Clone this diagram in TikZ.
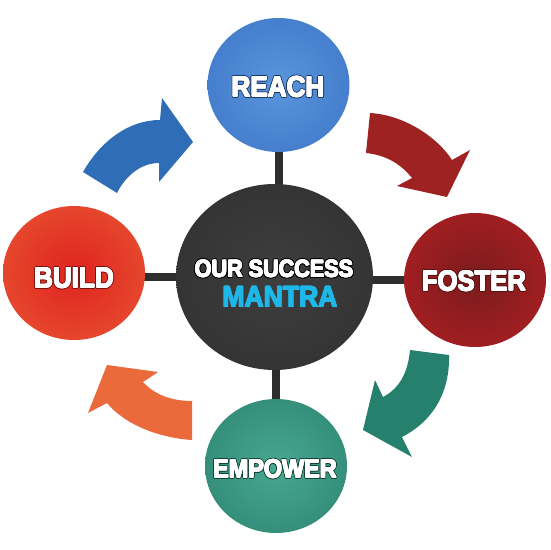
\documentclass[tikz,border=0pt]{standalone}
\usepackage{fontspec}
\usetikzlibrary{shapes.geometric,backgrounds}
\newfontfamily\hv{Liberation Sans}[FakeStretch=0.9]
\definecolor{reachin}{HTML}{5A95DC}
\definecolor{reachout}{HTML}{316ABF}
\definecolor{fosterin}{HTML}{7A1B1C}
\definecolor{fosterout}{HTML}{C42127}
\definecolor{empin}{HTML}{48A891}
\definecolor{empout}{HTML}{237866}
\definecolor{buildin}{HTML}{DF231F}
\definecolor{buildout}{HTML}{EC6739}
\definecolor{midin}{HTML}{3E3E3E}
\definecolor{midout}{HTML}{2B2B2B}
\definecolor{linkc}{HTML}{2E2E2E}
\definecolor{arblue}{HTML}{2F6DB7}
\definecolor{arred}{HTML}{9F2223}
\definecolor{arteal}{HTML}{26806E}
\definecolor{arorange}{HTML}{EB6A3B}
\definecolor{mantra}{HTML}{1DB8E8}
\pgfdeclareradialshading{reachsh}{\pgfpoint{0bp}{0bp}}{color(0bp)=(reachin);color(48bp)=(reachout);color(50bp)=(reachout)}
\pgfdeclareradialshading{fostersh}{\pgfpoint{0bp}{0bp}}{color(0bp)=(fosterin);color(48bp)=(fosterout);color(50bp)=(fosterout)}
\pgfdeclareradialshading{empsh}{\pgfpoint{0bp}{0bp}}{color(0bp)=(empin);color(48bp)=(empout);color(50bp)=(empout)}
\pgfdeclareradialshading{buildsh}{\pgfpoint{0bp}{0bp}}{color(0bp)=(buildin);color(48bp)=(buildout);color(50bp)=(buildout)}
\pgfdeclareradialshading{midsh}{\pgfpoint{0bp}{0bp}}{color(0bp)=(midin);color(48bp)=(midout);color(50bp)=(midout)}
% heavy text: outline colour, fill colour, text
\newcommand\heavytxt[3]{%
  \setbox0=\hbox{#3}%
  \hbox to \wd0{%
    \foreach \dx/\dy in {1.5/0,1.3/0.75,0.75/1.3,0/1.5,-0.75/1.3,-1.3/0.75,-1.5/0,-1.3/-0.75,-0.75/-1.3,0/-1.5,0.75/-1.3,1.3/-0.75}{\rlap{\kern\dx pt\raisebox{\dy pt}{\color{#1}#3}}}%
    \foreach \dx/\dy in {0.6/0,0.42/0.42,0/0.6,-0.42/0.42,-0.6/0,-0.42/-0.42,0/-0.6,0.42/-0.42}{\rlap{\kern\dx pt\raisebox{\dy pt}{\color{#2}#3}}}%
    \rlap{\color{#2}#3}\hss}}
\tikzset{
  ball/.style={ellipse,inner sep=0pt,minimum width=142pt,minimum height=134pt},
  link/.style={line width=8pt,draw=linkc},
  lbl/.style={inner sep=0pt,font=\hv\bfseries\fontsize{#1}{#1}\selectfont}
}
\begin{document}
\begin{tikzpicture}[x=1pt,y=-1pt]
\useasboundingbox (0,0) rectangle (550,550);
% arrows
\fill[arblue] (83,172) .. controls (100,142) and (128,120) .. (160,120)
  -- (162,98) -- (193,142) -- (159,182) -- (159,163)
  .. controls (140,163) and (125,177) .. (117,193) -- cycle;
\fill[arred] (370,113) .. controls (405,115) and (438,138) .. (452,160)
  -- (470,150) -- (447,197) -- (397,186) -- (412,178)
  .. controls (400,163) and (385,155) .. (366,153) -- cycle;
\fill[arteal] (449,355) .. controls (450,390) and (435,420) .. (402,437)
  -- (412,457) -- (363,430) -- (375,380) -- (383,397)
  .. controls (400,388) and (408,372) .. (410,350) -- cycle;
\fill[arorange] (192,440) .. controls (160,438) and (125,425) .. (107,403)
  -- (88,413) -- (107,365) -- (158,372) -- (143,382)
  .. controls (155,395) and (172,401) .. (192,401) -- cycle;
% nodes
\node[ellipse,inner sep=0pt,minimum width=197pt,minimum height=186pt,shading=midsh] (mid) at (274.5,277) {};
\node[ball,shading=reachsh] (reach) at (278.5,85) {};
\node[ball,shading=fostersh] (foster) at (475,280) {};
\node[ball,shading=empsh] (emp) at (276,466) {};
\node[ball,shading=buildsh] (build) at (74,273) {};
\begin{scope}[on background layer]
\draw[link] (reach.center) -- (reach.center |- mid.center);
\draw[link] (emp.center) -- (emp.center |- mid.center);
\draw[link] (build.east) ++(-5,4) -- ++(60,0) coordinate (bl);
\draw[link] (foster.west) ++(5,0) -- ++(-60,0) coordinate (fl);
\end{scope}
% labels
\node[lbl=29] (treach) at (278,87) {\heavytxt{reachout!55!black}{white}{REACH}};
\node[lbl=28.5] (tfoster) at (474,281) {\heavytxt{fosterin!70!black}{white}{FOSTER}};
\node[lbl=26] (temp) at (275,469) {\heavytxt{empout!55!black}{white}{EMPOWER}};
\node[lbl=29] (tbuild) at (74,278) {\heavytxt{buildin!55!black}{white}{BUILD}};
\node[lbl=24] (tour) at (274,269) {\heavytxt{black}{white}{OUR SUCCESS}};
\node[lbl=29.5] (tmantra) at (280,297) {\heavytxt{midin}{mantra}{MANTRA}};
\end{tikzpicture}
\end{document}
